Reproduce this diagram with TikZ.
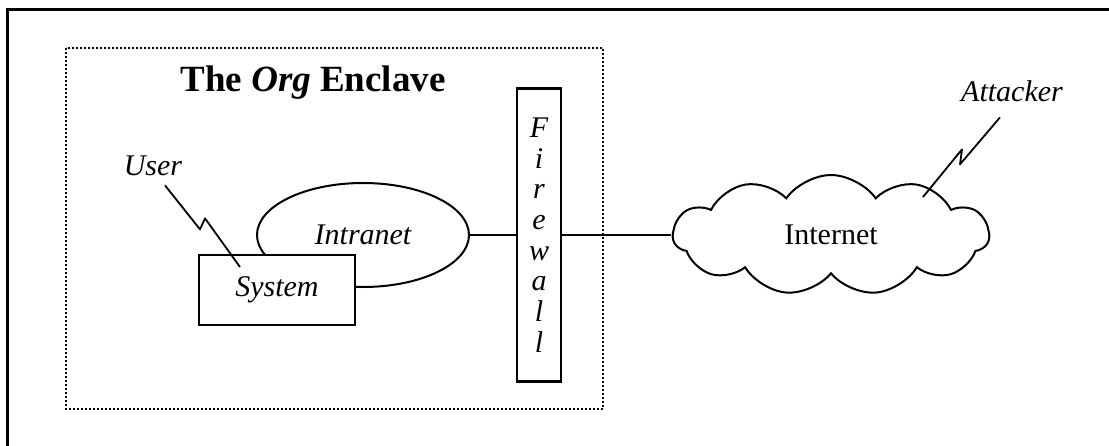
\documentclass[tikz,border=0pt]{standalone}
\usepackage{fontspec}
\setmainfont{Liberation Serif}
\usetikzlibrary{shapes.geometric,shapes.symbols}

\begin{document}
\begin{tikzpicture}[x=0.5pt,y=-0.5pt,
  box/.style={draw, line width=1.1pt, fill=white, inner sep=0pt},
  lbl/.style={font=\fontsize{15}{18}\selectfont\itshape},
  bolt/.style={line width=0.9pt, line join=round}]
\useasboundingbox (0,0) rectangle (1109,445);
\clip (0,0) rectangle (1109,445);

% outer frame, it runs off the page on the right and at the bottom
\draw[line width=1.5pt] (7,500) -- (7,9) -- (1160,9);

% the enclave
\draw[line width=0.8pt, dash pattern=on 0.9pt off 1.1pt] (66,48) rectangle (603,409);
\node[anchor=base, font=\fontsize{18.5}{22}\selectfont\bfseries] (title) at (313,91) {The \textit{Org} Enclave};

\node[draw, ellipse, line width=1pt, minimum width=106pt, minimum height=52pt, inner sep=0pt, lbl] (intra) at (363,235) {Intranet};
\node[box, lbl, minimum width=78pt, minimum height=35pt] (sys) at (277,290) {System};
\node[box, minimum width=22pt, minimum height=146.5pt, align=center,
  font=\fontsize{15}{15.35}\selectfont\itshape] (fw) at (539,235) {F\\i\\r\\e\\w\\a\\l\\l};

% outside
\node[draw, cloud, cloud puffs=11, cloud puff arc=110, aspect=2.6, line width=1pt,
  minimum width=158pt, minimum height=60pt, font=\fontsize{15}{18}\selectfont] (inet) at (831,235) {Internet};

\draw[line width=1pt] (intra.east) -- (intra.east -| fw.west);
\draw[line width=1pt] (fw.east |- inet.west) -- (inet.west);

% who is at each end
\node[lbl, anchor=base] (user) at (153,175) {User};
\node[lbl, anchor=base] (attacker) at (1012,101) {Attacker};
\coordinate (userhit) at (240,267);
\coordinate (attackhit) at (923,197);
\draw[bolt] ([shift={(6pt,-1.5pt)}]user.south) -- ++(35,44) -- ++(5,-11) -- (userhit);
\draw[bolt] ([shift={(-6pt,-4.5pt)}]attacker.south) -- ++(-40,47) -- ++(2,-15) -- (attackhit);
\end{tikzpicture}
\end{document}
